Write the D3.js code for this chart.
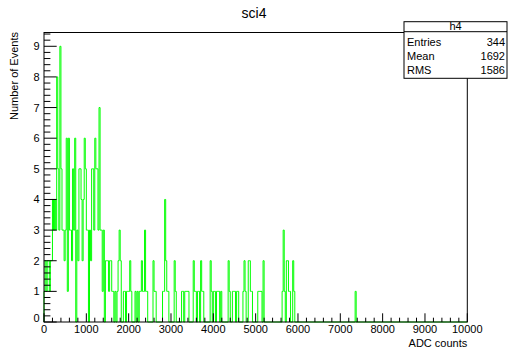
<!DOCTYPE html>
<html><head><meta charset="utf-8">
<script src="https://cdn.jsdelivr.net/npm/d3@7"></script>
<style>body{margin:0;background:#fff}svg{display:block;font-family:"Liberation Sans",Arial,sans-serif}</style>
</head><body><div id="c"></div>
<script>
const title = "sci4";
const xTitle = "ADC counts";
const yTitle = "Number of Events";
const xTicks = [0,1000,2000,3000,4000,5000,6000,7000,8000,9000,10000];
const yTicks = [0,1,2,3,4,5,6,7,8,9];
const binWidth = 25;
const nBins = 400;
// lower edges of non-empty bins and their counts
const binLow = [0,25,50,75,100,125,150,175,200,225,250,275,300,325,350,375,400,425,450,475,
 500,525,550,575,600,625,650,675,700,725,775,800,825,850,875,900,925,950,975,1000,1025,
 1075,1100,1125,1150,1175,1200,1225,1250,1275,1300,1325,1350,1375,1400,
 1450,1475,1500,1525,1550,1575,1600,1625,1675,1725,1750,1775,1800,1875,1900,1950,1975,2000,2025,2050,
 2150,2200,2250,2275,2300,2325,2350,2375,2400,2425,2575,2600,2625,2800,2825,2850,2875,2900,2925,
 3075,3100,3250,3275,3325,3350,3375,3400,3525,3550,3575,3625,3650,3700,3725,3750,
 3925,3950,4000,4025,4075,4100,4125,4175,4350,4375,4450,4475,4500,4550,4575,
 4700,4725,4750,4825,4850,4875,4900,5050,5075,5100,5125,5175,
 5625,5650,5675,5725,5750,5775,5800,5875,5900,7350];
const binCount = [1,2,1,2,2,1,2,2,4,3,4,3,8,5,3,9,5,3,3,2,
 3,6,1,6,3,3,2,5,3,6,3,2,5,5,4,2,4,6,5,3,3,
 3,2,5,5,3,6,5,5,3,7,3,3,1,3,
 2,2,2,1,2,2,1,1,1,1,2,3,2,1,1,1,1,1,2,1,
 1,1,1,1,2,1,1,3,1,1,2,1,1,1,1,4,2,1,1,
 2,1,1,1,1,1,1,1,2,1,1,1,1,2,1,1,
 2,1,1,1,1,1,1,1,2,1,1,1,1,1,1,
 1,2,1,2,2,1,1,1,1,1,1,2,
 1,3,1,2,2,1,1,2,1,1];
const stats = {name:"h4", rows:[["Entries","344"],["Mean","1692"],["RMS","1586"]]};

const W=508,H=356;
const fx0=44,fx1=467.3,fy0=322,fy1=32.5;
const svg=d3.select("#c").append("svg").attr("width",W).attr("height",H);
svg.append("rect").attr("width",W).attr("height",H).attr("fill","#fff");
const x=d3.scaleLinear().domain([0,10000]).range([fx0,fx1]);
const y=d3.scaleLinear().domain([0,9.45]).range([fy0,fy1]);

const counts=new Array(nBins).fill(0);
binLow.forEach((b,i)=>{counts[Math.round(b/binWidth)]=binCount[i];});
const pts=[[0,0]];
counts.forEach((c,i)=>pts.push([i*binWidth,c]));
pts.push([nBins*binWidth,counts[nBins-1]]);
pts.push([nBins*binWidth,0]);
const line=d3.line().x(d=>x(d[0])).y(d=>y(d[1])).curve(d3.curveStepAfter);
svg.append("path").attr("d",line(pts)).attr("fill","none").attr("stroke","#00ff00").attr("stroke-width",1);

// frame
svg.append("rect").attr("x",fx0).attr("y",fy1).attr("width",fx1-fx0).attr("height",fy0-fy1)
 .attr("fill","none").attr("stroke","#000").attr("stroke-width",1);

// x axis ticks (inward)
const xMinor=d3.range(0,10001,200);
const xa=svg.append("g");
xMinor.forEach(v=>{
  const major=v%1000===0;
  xa.append("line").attr("x1",x(v)).attr("x2",x(v)).attr("y1",fy0).attr("y2",fy0-(major?8.7:4.3)).attr("stroke","#000");
});
xTicks.forEach(v=>{
  xa.append("text").attr("x",x(v)).attr("y",333).attr("text-anchor","middle").attr("font-size",11).text(v);
});
// y axis ticks
const ya=svg.append("g");
d3.range(0,9.41,0.2).forEach(v=>{
  const major=Math.abs(v-Math.round(v))<1e-6;
  ya.append("line").attr("x1",fx0).attr("x2",fx0+(major?12.7:6.4)).attr("y1",y(v)).attr("y2",y(v)).attr("stroke","#000");
});
yTicks.forEach(v=>{
  ya.append("text").attr("x",39.5).attr("y",y(v)+(v===0?-0.5:4)).attr("text-anchor","end").attr("font-size",11).text(v);
});

svg.append("text").attr("x",254).attr("y",18).attr("text-anchor","middle").attr("font-size",14).text(title);
svg.append("text").attr("x",fx1).attr("y",347).attr("text-anchor","end").attr("font-size",11).text(xTitle);
svg.append("text").attr("transform","translate(18,32) rotate(-90)").attr("text-anchor","end").attr("font-size",11).text(yTitle);

// stats box
const bx=404,by=21.7,bw=103,bh=56.6;
svg.append("rect").attr("x",bx).attr("y",by).attr("width",bw).attr("height",bh).attr("fill","#fff").attr("stroke","#000");
svg.append("line").attr("x1",bx).attr("x2",bx+bw).attr("y1",by+10).attr("y2",by+10).attr("stroke","#000");
svg.append("text").attr("x",bx+bw/2).attr("y",by+8.5).attr("text-anchor","middle").attr("font-size",11).text(stats.name);
stats.rows.forEach((r,i)=>{
  const yy=by+24.5+i*14;
  svg.append("text").attr("x",bx+3).attr("y",yy).attr("font-size",11).text(r[0]);
  svg.append("text").attr("x",bx+bw-2).attr("y",yy).attr("text-anchor","end").attr("font-size",11).text(r[1]);
});
</script></body></html>
